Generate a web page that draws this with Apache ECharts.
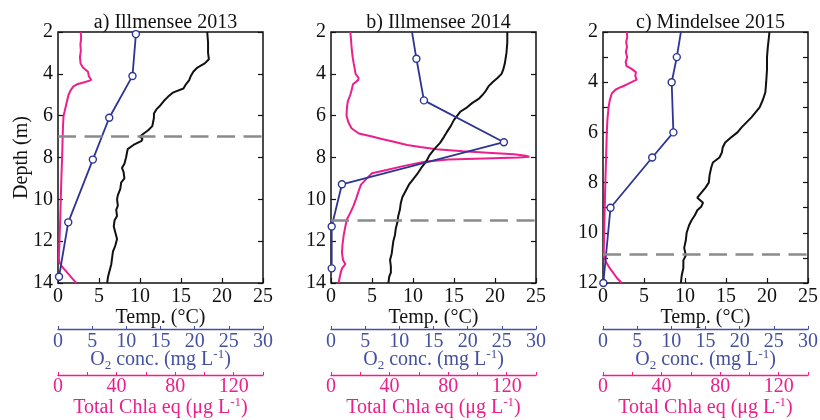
<!DOCTYPE html>
<html>
<head>
<meta charset="utf-8">
<script src="https://cdn.jsdelivr.net/npm/echarts@6/dist/echarts.min.js"></script>
<style>
  html, body { margin: 0; padding: 0; background: #fff; }
  #chart { width: 820px; height: 420px; }
</style>
</head>
<body>
<div id="chart"></div>
<script>
// Panel titles and depth ranges
const panelTitles = ['a) Illmensee 2013', 'b) Illmensee 2014', 'c) Mindelsee 2015'];
const depthMin = [2, 2, 2];
const depthMax = [14, 14, 12];
const depthStep = [2, 2, 1];
// Depth of the dashed mixing boundary (m)
const boundaryDepth = [7.0, 11.0, 10.85];

// Axis ranges
const tempRange = [0, 25];
const o2Range = [0, 30];
const chlaRange = [0, 140];

// ---- a) Illmensee 2013 ----
const tempDepthA = [2.0, 2.5, 3.0, 3.3, 3.5, 3.7, 3.9, 4.1, 4.3, 4.5, 4.7, 4.9, 5.1, 5.3, 5.5, 5.7, 5.9, 6.1, 6.3, 6.5, 6.7, 6.9, 7.0, 7.1, 7.2, 7.4, 7.6, 7.8, 8.0, 8.3, 8.5, 8.7, 9.0, 9.2, 9.5, 9.8, 10.0, 10.3, 10.5, 10.8, 11.0, 11.3, 11.6, 11.9, 12.2, 12.5, 12.8, 13.1, 13.4, 13.7, 14.0];
const tempA = [18.2, 18.3, 18.3, 18.4, 17.9, 17.0, 16.5, 16.2, 16.0, 15.6, 15.3, 14.0, 13.4, 12.9, 12.5, 12.0, 11.7, 11.7, 11.6, 11.5, 11.0, 10.3, 10.0, 10.3, 10.2, 9.2, 8.5, 8.4, 8.3, 8.1, 7.8, 8.0, 8.1, 7.7, 7.6, 7.3, 7.2, 7.3, 7.1, 7.2, 6.9, 6.8, 7.0, 7.2, 7.0, 6.7, 6.6, 6.5, 6.3, 6.1, 6.0];
const chlaDepthA = [2.0, 2.3, 2.6, 2.9, 3.2, 3.5, 3.7, 3.9, 4.1, 4.3, 4.4, 4.5, 4.6, 4.8, 5.0, 5.2, 5.5, 5.8, 6.0, 6.5, 7.0, 8.0, 9.0, 10.0, 11.0, 12.0, 12.8, 13.0, 13.2, 13.4, 13.6, 13.8, 14.0];
const chlaA = [15.5, 15.8, 15.3, 15.6, 15.0, 15.4, 17.0, 20.5, 21.0, 22.7, 18.0, 13.0, 10.5, 8.5, 7.2, 6.5, 5.5, 4.5, 3.8, 3.4, 3.2, 2.8, 2.3, 1.9, 1.5, 1.0, 0.6, 0.9, 2.5, 5.0, 7.5, 10.0, 12.5];
const o2DepthA = [2.1, 4.1, 6.1, 8.1, 11.1, 13.7];
const o2A = [11.4, 10.9, 7.5, 5.1, 1.5, 0.15];

// ---- b) Illmensee 2014 ----
const tempDepthB = [2.0, 2.5, 3.0, 3.5, 3.8, 4.0, 4.2, 4.4, 4.6, 4.8, 5.0, 5.2, 5.4, 5.6, 5.8, 6.0, 6.2, 6.5, 6.8, 7.0, 7.3, 7.6, 7.9, 8.2, 8.5, 8.8, 9.0, 9.3, 9.6, 9.9, 10.2, 10.5, 10.8, 11.1, 11.4, 11.7, 12.0, 12.3, 12.6, 12.9, 13.2, 13.5, 13.7, 14.0];
const tempB = [21.5, 21.5, 21.4, 21.2, 21.0, 20.8, 20.3, 19.7, 19.2, 18.9, 18.5, 18.0, 17.2, 16.6, 15.8, 15.4, 15.0, 14.6, 14.1, 13.8, 13.3, 12.6, 12.0, 11.6, 11.0, 10.5, 10.1, 9.5, 9.1, 8.7, 8.5, 8.4, 8.2, 8.1, 7.9, 7.8, 7.6, 7.5, 7.4, 7.2, 7.3, 7.3, 7.1, 7.0];
const chlaDepthB = [2.0, 2.3, 2.6, 2.9, 3.2, 3.5, 3.8, 4.0, 4.2, 4.3, 4.5, 4.8, 5.0, 5.3, 5.6, 6.0, 6.3, 6.6, 6.85, 7.0, 7.1, 7.25, 7.4, 7.5, 7.6, 7.7, 7.78, 7.85, 7.92, 7.96, 8.0, 8.05, 8.1, 8.2, 8.4, 8.6, 8.75, 9.0, 9.3, 9.6, 10.0, 10.3, 10.6, 10.95, 11.3, 11.75, 12.2, 12.55, 12.9, 13.1, 13.3, 13.6, 14.0];
const chlaB = [13.2, 13.6, 13.9, 14.3, 14.8, 15.5, 16.3, 16.8, 18.9, 18.5, 15.0, 14.0, 13.2, 11.5, 10.9, 10.6, 11.8, 14.0, 19.0, 28.0, 34.0, 43.0, 52.0, 61.0, 72.0, 90.0, 110.0, 125.0, 133.0, 135.5, 128.0, 105.0, 80.0, 64.0, 50.0, 38.0, 28.0, 24.5, 20.5, 18.9, 17.0, 15.4, 13.5, 10.9, 9.8, 8.6, 7.8, 7.5, 8.2, 9.8, 7.5, 6.3, 5.2];
const o2DepthB = [1.2, 3.28, 5.27, 7.27, 9.28, 11.3, 13.3];
const o2B = [11.45, 12.5, 13.6, 25.3, 1.6, 0.1, 0.1];

// ---- c) Mindelsee 2015 ----
const tempDepthC = [2.0, 2.3, 2.6, 3.0, 3.5, 4.0, 4.4, 4.7, 5.0, 5.2, 5.4, 5.6, 5.8, 6.0, 6.2, 6.4, 6.6, 6.8, 7.0, 7.2, 7.4, 7.7, 8.0, 8.2, 8.4, 8.6, 8.8, 8.95, 9.1, 9.3, 9.5, 9.7, 10.0, 10.3, 10.6, 10.9, 11.1, 11.4, 11.7, 12.0];
const tempC = [20.3, 20.2, 20.1, 20.0, 20.0, 19.9, 19.8, 19.5, 19.1, 18.6, 18.1, 17.5, 16.9, 16.4, 15.6, 14.9, 14.6, 14.5, 14.2, 13.4, 13.2, 13.0, 12.9, 12.5, 12.0, 11.5, 12.2, 12.0, 11.5, 11.2, 10.8, 10.5, 10.2, 10.1, 9.9, 10.1, 9.8, 9.8, 9.6, 9.5];
const chlaDepthC = [2.0, 2.2, 2.4, 2.6, 2.8, 3.0, 3.2, 3.35, 3.45, 3.6, 3.75, 3.9, 4.0, 4.1, 4.2, 4.3, 4.45, 4.7, 5.0, 5.5, 6.0, 7.0, 8.0, 9.0, 10.0, 10.8, 11.0, 11.2, 11.4, 11.6, 11.8, 12.0];
const chlaC = [16.2, 16.6, 15.8, 16.4, 15.6, 16.5, 15.5, 16.0, 19.0, 22.5, 22.0, 23.0, 19.5, 16.0, 12.0, 8.5, 6.0, 4.7, 3.8, 3.0, 2.6, 2.1, 1.6, 1.2, 0.8, 0.5, 0.8, 2.5, 4.5, 7.0, 9.5, 12.8];
const o2DepthC = [1.0, 3.0, 4.0, 6.0, 7.0, 9.0, 12.0];
const o2C = [12.0, 10.8, 10.05, 10.3, 7.2, 1.1, 0.05];

const tempDepths = [tempDepthA, tempDepthB, tempDepthC];
const temps = [tempA, tempB, tempC];
const chlaDepths = [chlaDepthA, chlaDepthB, chlaDepthC];
const chlas = [chlaA, chlaB, chlaC];
const o2Depths = [o2DepthA, o2DepthB, o2DepthC];
const o2s = [o2A, o2B, o2C];

// Colours
const BLACK = '#111111';
const PINK = '#ec1f8c';
const BLUE = '#2c3593';
const BLUE_AXIS = '#4450a2';
const GREY = '#8a8a8a';
const FONT = "'Liberation Serif', 'Times New Roman', serif";
const TICK_SIZE = 20;
const NAME_SIZE = 20;

// Layout of the three plot boxes (pixels)
const gridLeft = [58, 331, 603];
const gridWidth = 205;
const gridTop = 32;
const gridHeight = 251;

function pairs(xs, ys) {
  return xs.map((x, i) => [x, ys[i]]);
}

function innerTick(color, len, width) {
  return { show: true, inside: true, length: len, lineStyle: { color: color, width: width } };
}

const subRich = {
  n: { fontFamily: FONT, fontSize: NAME_SIZE, lineHeight: 24, verticalAlign: 'middle' },
  sub: { fontFamily: FONT, fontSize: 13, lineHeight: 14, verticalAlign: 'bottom' },
  sup: { fontFamily: FONT, fontSize: 13, lineHeight: 14, verticalAlign: 'top' }
};

const grids = [], xAxes = [], yAxes = [], series = [], titles = [];

for (let p = 0; p < 3; p++) {
  grids.push({
    left: gridLeft[p], top: gridTop, width: gridWidth, height: gridHeight,
    show: true, borderColor: BLACK, borderWidth: 1.5, backgroundColor: 'transparent',
    containLabel: false, outerBoundsMode: 'none'
  });

  titles.push({
    text: panelTitles[p],
    left: gridLeft[p] + gridWidth / 2,
    top: 8,
    textAlign: 'center',
    textStyle: { fontFamily: FONT, fontSize: NAME_SIZE, fontWeight: 'normal', color: BLACK }
  });

  // temperature axis (bottom border)
  xAxes.push({
    gridIndex: p, type: 'value', position: 'bottom',
    min: tempRange[0], max: tempRange[1], interval: 5,
    axisLine: { show: false, onZero: false },
    axisTick: innerTick(BLACK, 5, 1.2),
    axisLabel: { margin: 4, fontFamily: FONT, fontSize: TICK_SIZE, color: BLACK },
    splitLine: { show: false },
    name: 'Temp. (°C)', nameLocation: 'middle', nameGap: 25, nameMoveOverlap: false,
    nameTextStyle: { fontFamily: FONT, fontSize: NAME_SIZE, color: BLACK }
  });
  // oxygen axis
  xAxes.push({
    gridIndex: p, type: 'value', position: 'bottom', offset: 46,
    min: o2Range[0], max: o2Range[1], interval: 5,
    axisLine: { show: true, onZero: false, lineStyle: { color: BLUE_AXIS, width: 1.3 } },
    axisTick: innerTick(BLUE_AXIS, 3, 1),
    axisLabel: { margin: 3, fontFamily: FONT, fontSize: TICK_SIZE, color: BLUE_AXIS },
    splitLine: { show: false },
    name: '{n|O}{sub|2}{n| conc. (mg L}{sup|-1}{n|)}', nameLocation: 'middle', nameGap: 19,
    nameMoveOverlap: false,
    nameTextStyle: { fontFamily: FONT, fontSize: NAME_SIZE, color: BLUE_AXIS, rich: subRich }
  });
  // chlorophyll axis
  xAxes.push({
    gridIndex: p, type: 'value', position: 'bottom', offset: 92,
    min: chlaRange[0], max: chlaRange[1], interval: 20,
    axisLine: { show: true, onZero: false, lineStyle: { color: PINK, width: 1.3 } },
    axisTick: innerTick(PINK, 3, 1),
    axisLabel: {
      margin: 2, fontFamily: FONT, fontSize: TICK_SIZE, color: PINK,
      formatter: v => (v % 40 === 0 ? String(v) : '')
    },
    splitLine: { show: false },
    name: '{n|Total Chla eq (μg L}{sup|-1}{n|)}', nameLocation: 'middle', nameGap: 21,
    nameMoveOverlap: false,
    nameTextStyle: { fontFamily: FONT, fontSize: NAME_SIZE, color: PINK, rich: subRich }
  });

  // depth axis (left, labelled)
  yAxes.push({
    gridIndex: p, type: 'value', position: 'left', inverse: true,
    min: depthMin[p], max: depthMax[p], interval: depthStep[p],
    axisLine: { show: false, onZero: false },
    axisTick: innerTick(BLACK, 5, 1.2),
    axisLabel: {
      margin: 5, fontFamily: FONT, fontSize: TICK_SIZE, color: BLACK,
      formatter: v => (v % 2 === 0 ? String(v) : '')
    },
    splitLine: { show: false },
    name: p === 0 ? 'Depth (m)' : '', nameLocation: 'middle', nameRotate: 90, nameGap: 26,
    nameMoveOverlap: false,
    nameTextStyle: { fontFamily: FONT, fontSize: NAME_SIZE, color: BLACK }
  });
  // mirrored ticks on the right border
  yAxes.push({
    gridIndex: p, type: 'value', position: 'right', inverse: true,
    min: depthMin[p], max: depthMax[p], interval: depthStep[p],
    axisLine: { show: false, onZero: false },
    axisTick: innerTick(BLACK, 5, 1.2),
    axisLabel: { show: false },
    splitLine: { show: false }
  });

  const yIdx = p * 2;
  // chlorophyll profile
  series.push({
    type: 'line', xAxisIndex: p * 3 + 2, yAxisIndex: yIdx,
    data: pairs(chlas[p], chlaDepths[p]),
    showSymbol: false, symbol: 'none', clip: true, z: 3,
    lineStyle: { color: PINK, width: 2 }
  });
  // temperature profile, carrying the dashed boundary line
  series.push({
    type: 'line', xAxisIndex: p * 3, yAxisIndex: yIdx,
    data: pairs(temps[p], tempDepths[p]),
    showSymbol: false, symbol: 'none', clip: true, z: 4,
    lineStyle: { color: BLACK, width: 2 },
    markLine: {
      silent: true, symbol: 'none', label: { show: false },
      lineStyle: { color: GREY, width: 2.5, type: [18, 8.5] },
      data: [{ yAxis: boundaryDepth[p] }],
      z: 6
    }
  });
  // oxygen profile with open circle markers
  series.push({
    type: 'line', xAxisIndex: p * 3 + 1, yAxisIndex: yIdx,
    data: pairs(o2s[p], o2Depths[p]),
    clip: true, z: 5,
    symbol: 'circle', symbolSize: 7, showSymbol: true,
    lineStyle: { color: BLUE, width: 1.8 },
    itemStyle: { color: '#ffffff', borderColor: BLUE, borderWidth: 1.4 }
  });
}

const chart = echarts.init(document.getElementById('chart'), null, { renderer: 'canvas' });
chart.setOption({
  animation: false,
  backgroundColor: '#ffffff',
  title: titles,
  grid: grids,
  xAxis: xAxes,
  yAxis: yAxes,
  series: series
});
</script>
</body>
</html>
